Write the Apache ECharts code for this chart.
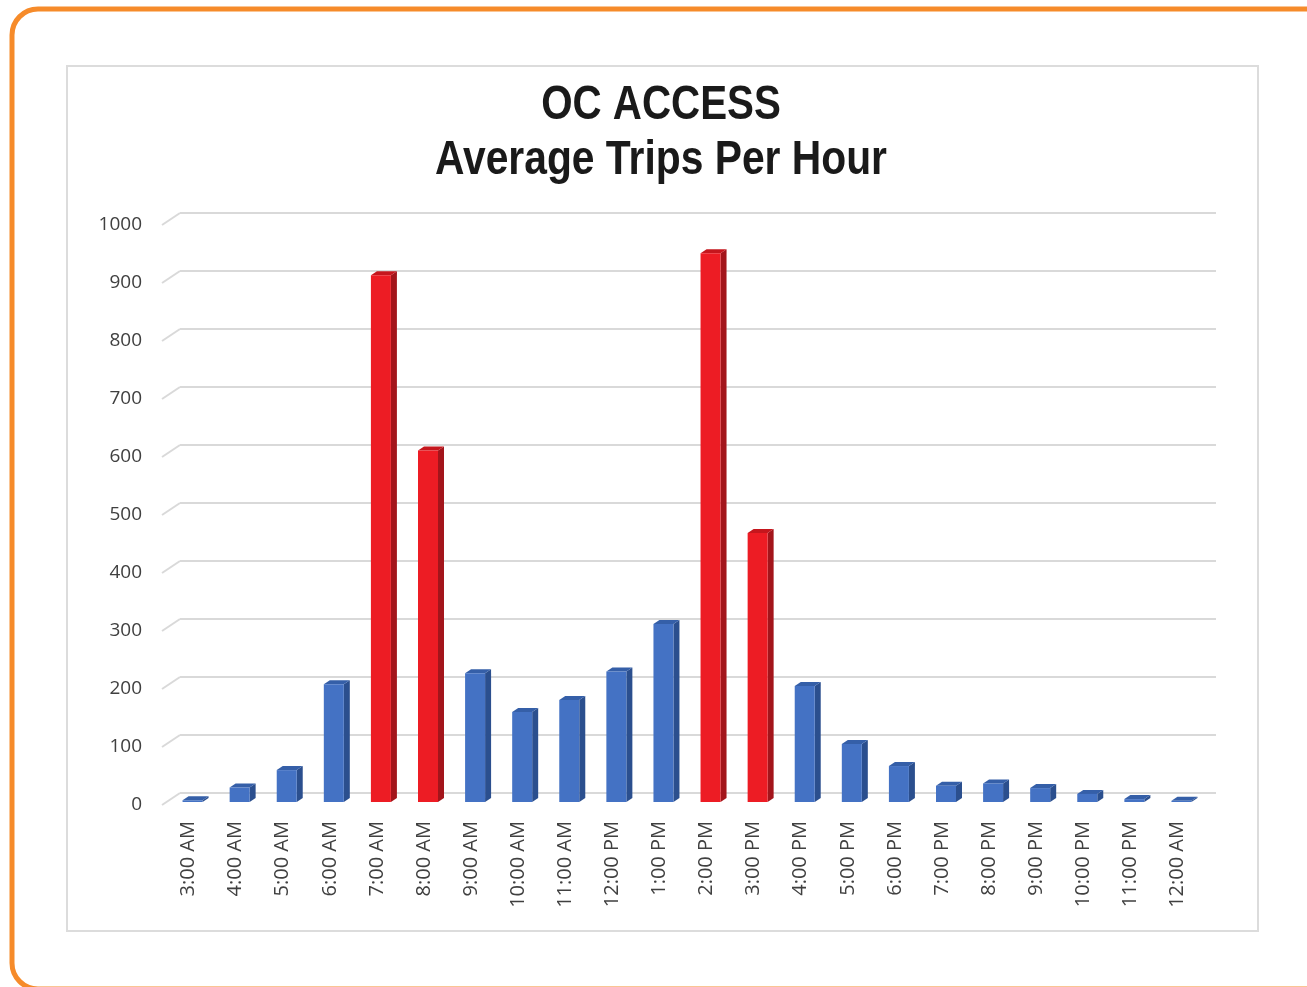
<!DOCTYPE html>
<html>
<head>
<meta charset="utf-8">
<title>OC ACCESS Average Trips Per Hour</title>
<script src="https://cdn.jsdelivr.net/npm/echarts@6/dist/echarts.min.js"></script>
<style>
    html, body { margin: 0; padding: 0; background: #fff; }
    #chart { width: 1307px; height: 987px; }
</style>
</head>
<body>
<div id="chart"></div>
<script>
// hours of the day
let hours = ['3:00 AM', '4:00 AM', '5:00 AM', '6:00 AM', '7:00 AM', '8:00 AM', '9:00 AM',
    '10:00 AM', '11:00 AM', '12:00 PM', '1:00 PM', '2:00 PM', '3:00 PM', '4:00 PM',
    '5:00 PM', '6:00 PM', '7:00 PM', '8:00 PM', '9:00 PM', '10:00 PM', '11:00 PM', '12:00 AM'];
// average trips for each hour
let trips = [3, 25, 55, 203, 908, 606, 222, 155, 176, 225, 307, 946, 464, 200,
    100, 62, 28, 32, 24, 14, 5, 2];
// peak hours drawn in red
let peakHours = ['7:00 AM', '8:00 AM', '2:00 PM', '3:00 PM'];
let yTicks = [0, 100, 200, 300, 400, 500, 600, 700, 800, 900, 1000];

let chart = echarts.init(document.getElementById('chart'));

let blue = {front: '#4472c4', side: '#2b4f8e', top: '#355fa8'};
let red = {front: '#ed1c24', side: '#a3151b', top: '#c5161d'};

let barData = hours.map((h, i) => [i, trips[i], peakHours.indexOf(h) >= 0 ? 1 : 0]);

// 3d-looking column: front face, right side, top
function renderBar(params, api) {
    let i = api.value(0);
    let base = api.coord([i, 0]);
    let top = api.coord([i, api.value(1)]);
    let c = api.value(2) === 1 ? red : blue;
    let w = 20, dx = 4, dy = -3, sx = 6, sy = -4;
    let x = base[0] + dx - w / 2;
    let y = top[1] + dy;
    let h = base[1] - top[1];
    return {
        type: 'group',
        children: [
            {type: 'polygon', shape: {points: [[x + w, y], [x + w + sx, y + sy], [x + w + sx, y + h + sy], [x + w, y + h]]},
                style: {fill: c.side}},
            {type: 'polygon', shape: {points: [[x, y], [x + sx, y + sy], [x + w + sx, y + sy], [x + w, y]]},
                style: {fill: c.top}},
            {type: 'rect', shape: {x: x, y: y, width: w, height: h}, style: {fill: c.front}}
        ]
    };
}

// slanted side wall edges at each tick
function renderWallTick(params, api) {
    let p = api.coord([0, api.value(0)]);
    let x0 = params.coordSys.x - 3;
    return {
        type: 'polyline',
        shape: {points: [[x0, p[1]], [x0 + 18, p[1] - 12]]},
        style: {stroke: '#d9d9d9', lineWidth: 2, fill: null}
    };
}

let titleFont = 'bold 48px "Liberation Sans", Arial, sans-serif';

let option = {
    animation: false,
    backgroundColor: '#fff',
    graphic: [
        {type: 'rect', shape: {x: 12, y: 9, width: 1320, height: 980, r: 26},
            style: {fill: null, stroke: '#f68b2a', lineWidth: 5}, z: -10},
        {type: 'rect', shape: {x: 67, y: 66, width: 1191, height: 865},
            style: {fill: '#fff', stroke: '#dcdcdc', lineWidth: 2}, z: -9},
        // title, squeezed to look like a condensed face
        {type: 'text', x: 661, y: 106, scaleX: 0.84, z: 10,
            style: {text: 'OC ACCESS', font: titleFont, fill: '#1a1a1a', textAlign: 'center', textVerticalAlign: 'middle'}},
        {type: 'text', x: 661, y: 161, scaleX: 0.85, z: 10,
            style: {text: 'Average Trips Per Hour', font: titleFont, fill: '#1a1a1a', textAlign: 'center', textVerticalAlign: 'middle'}}
    ],
    grid: [
        {left: 180, right: 91, top: 213, bottom: 194},
        {left: 165, right: 106, top: 225, bottom: 182}
    ],
    xAxis: [
        {type: 'category', gridIndex: 0, data: hours, show: false},
        {
            type: 'category', gridIndex: 1, data: hours,
            axisLine: {show: false},
            axisTick: {show: false},
            axisLabel: {
                rotate: 90,
                margin: 16,
                fontFamily: '"Open Sans", sans-serif',
                fontSize: 20,
                color: '#404040'
            }
        }
    ],
    yAxis: [
        {
            type: 'value', gridIndex: 0, min: 0, max: 1000, interval: 100,
            axisLabel: {show: false},
            axisLine: {show: false},
            axisTick: {show: false},
            splitLine: {lineStyle: {color: '#d9d9d9', width: 2}}
        },
        {
            type: 'value', gridIndex: 1, min: 0, max: 1000, interval: 100,
            axisLine: {show: false},
            axisTick: {show: false},
            splitLine: {show: false},
            axisLabel: {
                margin: 23,
                formatter: v => String(v),
                fontFamily: '"Open Sans", sans-serif',
                fontSize: 19,
                color: '#404040'
            }
        }
    ],
    series: [
        {
            type: 'custom',
            xAxisIndex: 1,
            yAxisIndex: 1,
            data: yTicks.map(v => [v]),
            encode: {y: 0},
            renderItem: renderWallTick,
            silent: true
        },
        {
            name: 'Average Trips',
            type: 'custom',
            xAxisIndex: 1,
            yAxisIndex: 1,
            data: barData,
            encode: {x: 0, y: 1},
            renderItem: renderBar
        }
    ]
};

chart.setOption(option);
</script>
</body>
</html>
